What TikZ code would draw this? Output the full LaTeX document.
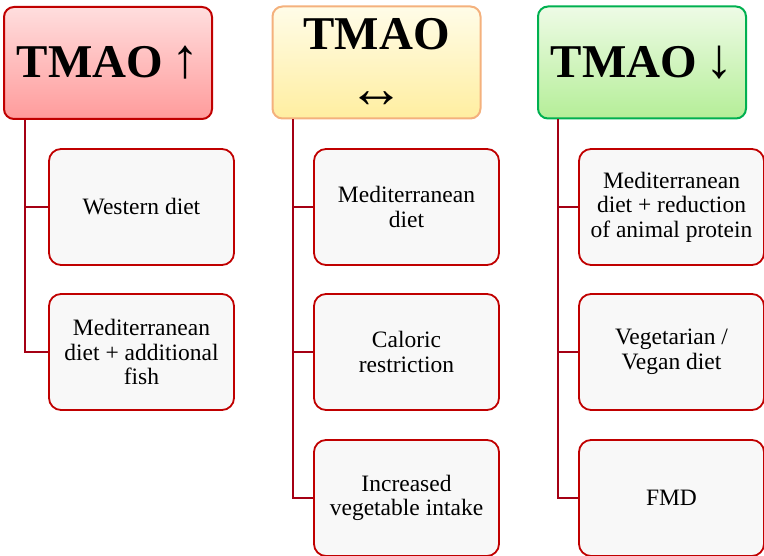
\documentclass[tikz,border=0pt]{standalone}
\usepackage{fontspec}
\setmainfont{Liberation Serif}
\usetikzlibrary{positioning}
\definecolor{darkred}{RGB}{192, 0, 0}
\definecolor{linkred}{RGB}{165, 0, 20}
\definecolor{redtop}{RGB}{255, 222, 222}
\definecolor{redbottom}{RGB}{255, 155, 155}
\definecolor{tanedge}{RGB}{244, 177, 125}
\definecolor{yellowtop}{RGB}{255, 252, 232}
\definecolor{yellowbottom}{RGB}{255, 238, 160}
\definecolor{greenedge}{RGB}{0, 176, 80}
\definecolor{greentop}{RGB}{238, 251, 230}
\definecolor{greenbottom}{RGB}{181, 238, 152}
\definecolor{boxgrey}{RGB}{248, 248, 248}

\newcommand{\bigarrow}[1]{{\fontsize{56}{56}\selectfont\mdseries #1}}

\tikzset{
  header/.style={rounded corners=10pt, line width=2pt, minimum width=208pt,
    minimum height=112pt, align=center, font=\rmfamily\bfseries\fontsize{47}{54}\selectfont},
  item/.style={draw=darkred, fill=boxgrey, rounded corners=12pt, line width=1.8pt,
    minimum width=185pt, minimum height=116pt, align=center,
    font=\rmfamily\fontsize{23.5}{24.5}\selectfont},
  link/.style={draw=linkred, line width=2pt}
}

\begin{document}
\begin{tikzpicture}[x=1pt, y=-1pt]
\useasboundingbox (0,0) rectangle (764,556);

% Basic parameters for columns and rows
\def\colA{141.5}
\def\colB{406.5}
\def\colC{671.5}
\def\rowA{207}
\def\rowB{352}
\def\rowC{498}

% Header boxes
\node[header, draw=darkred, top color=redtop, bottom color=redbottom] (up) at (108,63) {TMAO\,\bigarrow{↑}};
\node[header, draw=tanedge, top color=yellowtop, bottom color=yellowbottom] (same) at (376.5,62.5) {TMAO\\[4pt]\bigarrow{↔}};
\node[header, draw=greenedge, top color=greentop, bottom color=greenbottom] (down) at (642,62.5) {TMAO\,\bigarrow{↓}};

% Items under TMAO up
\node[item] (western) at (\colA,\rowA) {Western diet};
\node[item] (medfish) at (\colA,\rowB) {Mediterranean\\diet + additional\\fish};

% Items under TMAO unchanged
\node[item] (med) at (\colB,\rowA) {Mediterranean\\diet};
\node[item] (caloric) at (\colB,\rowB) {Caloric\\restriction};
\node[item] (veggie) at (\colB,\rowC) {Increased\\vegetable intake};

% Items under TMAO down
\node[item] (medprot) at (\colC,\rowA) {Mediterranean\\diet + reduction\\of animal protein};
\node[item] (vegan) at (\colC,\rowB) {Vegetarian /\\Vegan diet};
\node[item] (fmd) at (\colC,\rowC) {FMD};

% Trunk lines
\coordinate (trunkA) at ([xshift=22pt]up.south west);
\coordinate (trunkB) at ([xshift=21pt]same.south west);
\coordinate (trunkC) at ([xshift=21pt]down.south west);

\draw[link] (trunkA) |- (medfish.west);
\draw[link] (western.west) -- (western.west -| trunkA);

\draw[link] (trunkB) |- (veggie.west);
\draw[link] (med.west) -- (med.west -| trunkB);
\draw[link] (caloric.west) -- (caloric.west -| trunkB);

\draw[link] (trunkC) |- (fmd.west);
\draw[link] (medprot.west) -- (medprot.west -| trunkC);
\draw[link] (vegan.west) -- (vegan.west -| trunkC);
\end{tikzpicture}
\end{document}
